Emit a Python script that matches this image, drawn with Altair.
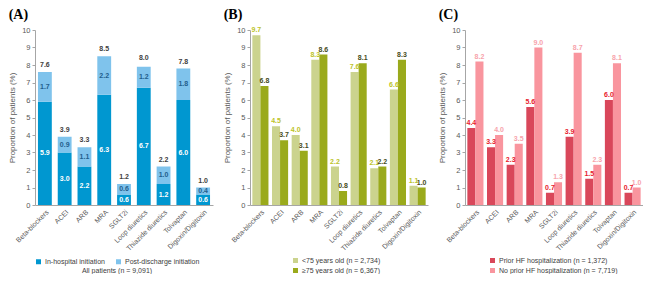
import altair as alt
import pandas as pd

categories = ["Beta-blockers", "ACEI", "ARB", "MRA", "SGLT2i", "Loop diuretics",
              "Thiazide diuretics", "Tolvaptan", "Digoxin/Digitoxin"]

# Panel A
a_series = ["In-hospital initiation", "Post-discharge initiation"]
a_inhospital = [5.9, 3.0, 2.2, 6.3, 0.6, 6.7, 1.2, 6.0, 0.6]
a_postdischarge = [1.7, 0.9, 1.1, 2.2, 0.6, 1.2, 1.0, 1.8, 0.4]
a_total = [7.6, 3.9, 3.3, 8.5, 1.2, 8.0, 2.2, 7.8, 1.0]

# Panel B
b_series = ["<75 years old (n = 2,734)", "\u226575 years old (n = 6,367)"]
b_under75 = [9.7, 4.5, 4.0, 8.3, 2.2, 7.6, 2.1, 6.6, 1.1]
b_over75 = [6.8, 3.7, 3.1, 8.6, 0.8, 8.1, 2.2, 8.3, 1.0]

# Panel C
c_series = ["Prior HF hospitalization (n = 1,372)", "No prior HF hospitalization (n = 7,719)"]
c_prior = [4.4, 3.3, 2.3, 5.6, 0.7, 3.9, 1.5, 6.0, 0.7]
c_noprior = [8.2, 4.0, 3.5, 9.0, 1.3, 8.7, 2.3, 8.1, 1.0]

FONT = "Liberation Sans"
W, H = 178, 175
YTITLE = "Proportion of patients (%)"


def y_axis():
    return alt.Axis(title=YTITLE, values=list(range(0, 11)), grid=False,
                    domainColor="#A6A6A6", tickColor="#A6A6A6", tickSize=3,
                    labelFontSize=7.5, labelColor="#595959", labelFont=FONT,
                    titleFontSize=8, titleColor="#595959", titleFont=FONT,
                    titleFontWeight="normal", titlePadding=5, labelPadding=2)


def y_enc(field, **kw):
    return alt.Y(field, title=YTITLE, scale=alt.Scale(domain=[0, 10], nice=False),
                 axis=y_axis(), **kw)


def x_enc(pi, po):
    return alt.X("cat:N", sort=categories, title=None,
                 scale=alt.Scale(domain=categories, paddingInner=pi, paddingOuter=po),
                 axis=alt.Axis(labelAngle=-45, labelFontSize=7, labelColor="#595959",
                               labelFont=FONT, ticks=False, domainColor="#A6A6A6",
                               labelPadding=3))


def title(t):
    return alt.TitleParams(text=t, anchor="start", frame="bounds",
                           font="Liberation Serif", fontSize=14, fontWeight="bold",
                           color="black", offset=4)


# ---------- Panel A ----------
rows = []
for i, c in enumerate(categories):
    rows.append({"cat": c, "series": a_series[0], "value": a_inhospital[i], "ord": 0})
    rows.append({"cat": c, "series": a_series[1], "value": a_postdischarge[i], "ord": 1})
df_a = pd.DataFrame(rows)
df_at = pd.DataFrame({"cat": categories, "total": a_total})

xa = x_enc(0.3, 0.15)
bars_a = alt.Chart(df_a).mark_bar().encode(
    x=xa,
    y=y_enc("value:Q", stack="zero"),
    color=alt.Color("series:N", scale=alt.Scale(domain=a_series, range=["#0097D0", "#7FC3EC"]),
                    legend=alt.Legend(title="All patients (n = 9,091)", titleOrient="bottom",
                                      titleAnchor="middle", titleFontWeight="normal",
                                      titleFontSize=7, titleColor="#404040", titleFont=FONT,
                                      orient="none", legendX=0, legendY=H + 53,
                                      direction="horizontal", symbolType="square",
                                      symbolSize=25, symbolStrokeWidth=0, labelFontSize=7,
                                      labelFont=FONT, labelColor="#404040", columnPadding=10,
                                      labelOffset=3, titlePadding=2)),
    order=alt.Order("ord:Q"),
)
seg_a = alt.Chart(df_a).transform_stack(
    stack="value", groupby=["cat"], as_=["y0", "y1"], sort=[alt.SortField("ord")]
).transform_calculate(mid="(datum.y0 + datum.y1) / 2").mark_text(
    fontSize=7, fontWeight="bold", font=FONT
).encode(
    x=xa, y=y_enc("mid:Q"),
    text=alt.Text("value:Q", format=".1f"),
    color=alt.condition(alt.datum.series == a_series[0], alt.value("white"), alt.value("#1F5E8C")),
)
tot_a = alt.Chart(df_at).mark_text(
    fontSize=7, fontWeight="bold", font=FONT, baseline="bottom", dy=-4, color="#404040"
).encode(x=xa, y=y_enc("total:Q"), text=alt.Text("total:Q", format=".1f"))

panel_a = alt.layer(bars_a, seg_a, tot_a).properties(width=W, height=H, title=title("(A)"))


# ---------- Grouped panels ----------
def grouped(series, v1, v2, colors, label_colors, lx, ttl):
    rows = []
    for i, c in enumerate(categories):
        rows.append({"cat": c, "series": series[0], "value": v1[i]})
        rows.append({"cat": c, "series": series[1], "value": v2[i]})
    df = pd.DataFrame(rows)
    xg = x_enc(0.18, 0.12)
    xo = alt.XOffset("series:N", sort=series, scale=alt.Scale(domain=series))
    bars = alt.Chart(df).mark_bar().encode(
        x=xg, xOffset=xo, y=y_enc("value:Q"),
        color=alt.Color("series:N", scale=alt.Scale(domain=series, range=colors),
                        legend=alt.Legend(title=None, orient="none", legendX=lx, legendY=H + 52,
                                          direction="vertical", symbolType="square",
                                          symbolSize=25, symbolStrokeWidth=0,
                                          labelFontSize=7, labelFont=FONT, labelOffset=3,
                                          labelColor="#404040", rowPadding=2)),
    )
    txt = alt.Chart(df).mark_text(
        fontSize=7, fontWeight="bold", font=FONT, baseline="bottom", dy=-2
    ).encode(
        x=xg, xOffset=xo, y=y_enc("value:Q"),
        text=alt.Text("value:Q", format=".1f"),
        color=alt.condition(alt.datum.series == series[0], alt.value(label_colors[0]),
                            alt.value(label_colors[1])),
    )
    return alt.layer(bars, txt).properties(width=W, height=H, title=title(ttl))


panel_b = grouped(b_series, b_under75, b_over75, ["#CBD38E", "#9AAA1C"],
                  ["#BCC32A", "#454B20"], 42, "(B)")
panel_c = grouped(c_series, c_prior, c_noprior, ["#D9475A", "#F9959E"],
                  ["#E8192C", "#F7A3AB"], 24, "(C)")

chart = alt.concat(panel_a, panel_b, panel_c, columns=3, spacing=10, align="each").resolve_scale(
    color="independent", xOffset="independent", x="independent"
).properties(padding=0).configure_view(stroke=None)

chart.save("out.html", embed_options={"renderer": "svg", "actions": False})
